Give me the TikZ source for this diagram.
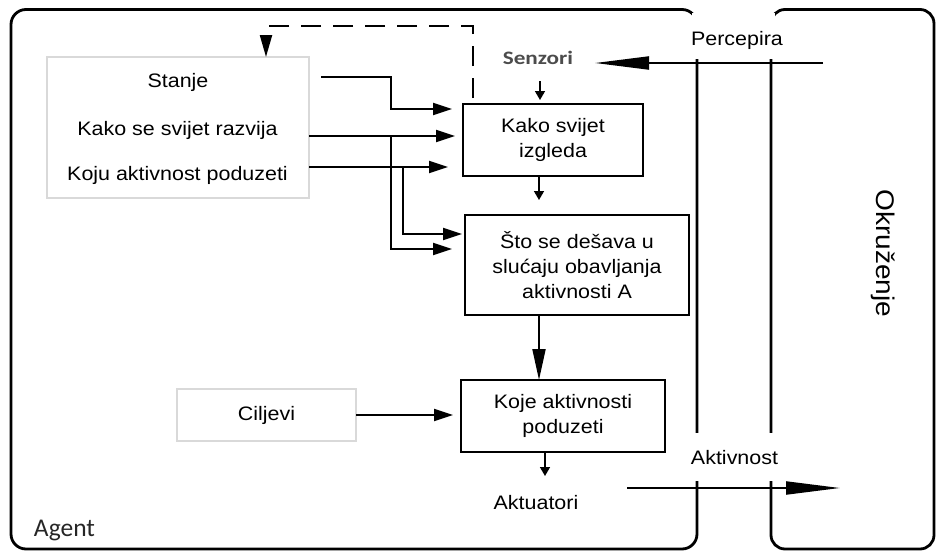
\documentclass[tikz,border=0pt]{standalone}
\usepackage{fontspec}
\setmainfont{Liberation Sans}[FakeStretch=1.1]
\newfontfamily\calibrifont{Carlito}
\newfontfamily\senzorfont{Carlito}[FakeStretch=1.22]
\usetikzlibrary{arrows.meta}

\begin{document}
\begin{tikzpicture}[x=1pt,y=-1pt,
  every node/.style={inner sep=0pt, outer sep=0pt, font=\fontsize{19.5}{25}\selectfont},
  frame/.style={line width=2.8pt, rounded corners=15pt},
  stepbox/.style={draw, line width=2pt, align=center},
  memo/.style={draw=black!15, line width=1.5pt},
  conn/.style={line width=2pt, -{Triangle[length=19pt,width=12pt]}},
  smallconn/.style={line width=1.6pt, -{Triangle[length=9pt,width=10pt]}},
  bigconn/.style={line width=2pt, -{Triangle[length=31pt,width=13pt]}},
  longconn/.style={line width=2pt, -{Triangle[length=54pt,width=13pt]}},
  dashconn/.style={line width=2.2pt, dash pattern=on 20pt off 12pt, -{Triangle[length=22pt,width=12pt]}},
]
\useasboundingbox (0,0) rectangle (938,552);

% agent and environment outlines, opened where the signals pass
\draw[frame] (11,9.5) rectangle (697,549);
\draw[frame, rounded corners=14pt] (771,9.5) rectangle (934,549);
\fill[white] (692,13) rectangle (775,59);
\fill[white] (690,433) rectangle (778,481);

% internal state memory
\node[memo, minimum width=262pt, minimum height=141pt] (memory) at (178,127.5) {};
\node[anchor=base] (stanje) at (178,87) {Stanje};
\node[anchor=base] (razvija) at (177.5,135) {Kako se svijet razvija};
\node[anchor=base] (koju) at (177.5,180) {Koju aktivnost poduzeti};
\node[memo, minimum width=179pt, minimum height=52pt] (ciljevi) at (266.5,415) {Ciljevi};

% reasoning steps
\node[stepbox, minimum width=180pt, minimum height=72pt] (izgleda) at (553,140) {Kako svijet\\izgleda};
\node[stepbox, minimum width=224pt, minimum height=100pt] (ishod) at (577,265) {Što se dešava u\\slućaju obavljanja\\aktivnosti A};
\node[stepbox, minimum width=204pt, minimum height=72pt] (odluka) at (563,416) {Koje aktivnosti\\poduzeti};

% labels
\node[anchor=base, font=\senzorfont\bfseries\fontsize{19}{21}\selectfont, text=black!70] (senzori) at (538,64) {Senzori};
\node[anchor=base] (aktuatori) at (536,509) {Aktuatori};
\node[anchor=base] (percepira) at (737,45) {Percepira};
\node[anchor=base] (aktivnost) at (734.5,464) {Aktivnost};
\node[rotate=-90, font=\fontsize{25.5}{30}\selectfont] (okruzenje) at (883,253.5) {Okruženje};
\node[anchor=base west, font=\calibrifont\fontsize{25.5}{28}\selectfont, text=black!85] (agent) at (34,536) {Agent};

% memory feeding the steps
\coordinate (stanjeout) at (321,77);
\draw[conn, shorten >=11pt] (stanjeout) -| (391,109) -- (izgleda.west |- 0,109);
\draw[conn, shorten >=8pt] (memory.east |- 0,136) -- (izgleda.west |- 0,136);
\draw[conn, shorten >=13pt] (391,136) |- (ishod.west |- 0,249);
\draw[conn, shorten >=15pt] (memory.east |- 0,167) -- (izgleda.west |- 0,167);
\draw[conn, shorten >=3pt] (403,167) |- (ishod.west |- 0,234);
\draw[dashconn] (473,98) -- (473,26) -- (266,26) -- (memory.north -| 266,0);

% main flow
\draw[smallconn, shorten >=4pt] (540,81) -- (izgleda.north -| 540,0);
\draw[smallconn, shorten >=15pt] (izgleda.south -| 539,0) -- (ishod.north -| 539,0);
\draw[bigconn] (ishod.south -| 539,0) -- (odluka.north -| 539,0);
\coordinate (aktuatoriin) at (545,476);
\draw[smallconn] (odluka.south -| 545,0) -- (aktuatoriin);
\draw[conn, shorten >=8pt] (ciljevi.east) -- (odluka.west |- ciljevi.east);

% percepts in, actions out
\coordinate (envout) at (823,63);
\coordinate (senzorin) at (595,63);
\draw[longconn] (envout) -- (senzorin);
\coordinate (actout) at (627,488);
\coordinate (envin) at (840,488);
\draw[longconn] (actout) -- (envin);
\end{tikzpicture}
\end{document}
